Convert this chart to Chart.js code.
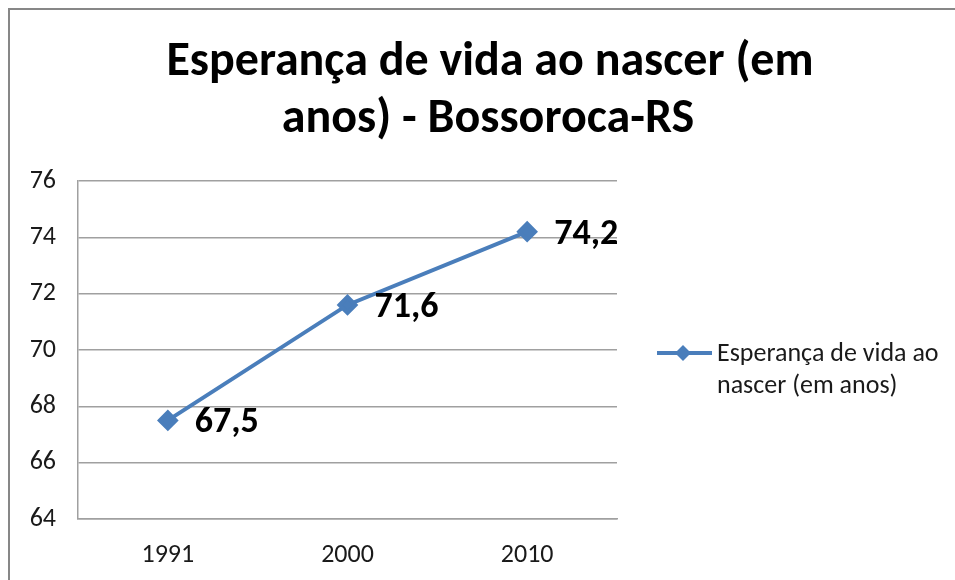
<!DOCTYPE html>
<html>
<head>
<meta charset="utf-8">
<script src="https://cdn.jsdelivr.net/npm/chart.js@4/dist/chart.umd.min.js"></script>
<style>
  html, body { margin: 0; padding: 0; background: #ffffff; }
  #wrap { width: 955px; height: 580px; position: relative; }
</style>
</head>
<body>
<div id="wrap"><canvas id="c" width="955" height="580"></canvas></div>
<script>
// ---- data ----
const categories = ['1991', '2000', '2010'];
const seriesName = 'Esperança de vida ao nascer (em anos)';
const seriesValues = [67.5, 71.6, 74.2];
const dataLabels = ['67,5', '71,6', '74,2'];
const titleLines = ['Esperança de vida ao nascer (em', 'anos) - Bossoroca-RS'];
const legendLines = ['Esperança de vida ao', 'nascer (em anos)'];
const yMin = 64, yMax = 76, yStep = 2;

const FONT = 'Carlito, Lato, "Liberation Sans", sans-serif';
const BLUE = '#4A7EBB';

const decor = {
  id: 'decor',
  afterDraw(chart) {
    const ctx = chart.ctx;
    ctx.save();
    // outer frame
    ctx.strokeStyle = '#878787';
    ctx.lineWidth = 2;
    ctx.beginPath();
    ctx.moveTo(9, 600); ctx.lineTo(9, 9); ctx.lineTo(960, 9);
    ctx.stroke();

    // title
    ctx.fillStyle = '#000000';
    ctx.font = 'bold 48px ' + FONT;
    ctx.textAlign = 'center';
    ctx.textBaseline = 'alphabetic';
    ctx.fillText(titleLines[0], 490, 75);
    ctx.fillText(titleLines[1], 488, 132);

    // data labels
    const meta = chart.getDatasetMeta(0);
    ctx.font = 'bold 36px ' + FONT;
    ctx.textAlign = 'left';
    meta.data.forEach((pt, i) => {
      ctx.fillText(dataLabels[i], pt.x + 27, pt.y + 12);
    });

    // legend
    const lx = 657, ly = 353;
    ctx.strokeStyle = BLUE;
    ctx.lineWidth = 4;
    ctx.beginPath();
    ctx.moveTo(lx, ly); ctx.lineTo(lx + 55, ly);
    ctx.stroke();
    ctx.fillStyle = BLUE;
    ctx.beginPath();
    const mx = lx + 26, r = 8;
    ctx.moveTo(mx, ly - r); ctx.lineTo(mx + r, ly); ctx.lineTo(mx, ly + r); ctx.lineTo(mx - r, ly);
    ctx.closePath(); ctx.fill();
    ctx.fillStyle = '#1a1a1a';
    ctx.font = '26px ' + FONT;
    ctx.fillText(legendLines[0], 717, 361);
    ctx.fillText(legendLines[1], 717, 393);
    ctx.restore();
  }
};

new Chart(document.getElementById('c'), {
  type: 'line',
  data: {
    labels: categories,
    datasets: [{
      label: seriesName,
      data: seriesValues,
      borderColor: BLUE,
      backgroundColor: BLUE,
      borderWidth: 4,
      pointStyle: 'rectRot',
      pointRadius: 8,
      pointHoverRadius: 8,
      pointBackgroundColor: BLUE,
      pointBorderColor: BLUE,
      tension: 0
    }]
  },
  options: {
    responsive: false,
    animation: false,
    events: [],
    layout: { padding: { left: 0, top: 181, right: 338, bottom: 0 } },
    plugins: {
      legend: { display: false },
      title: { display: false },
      tooltip: { enabled: false }
    },
    scales: {
      x: {
        offset: true,
        grid: { display: false, drawTicks: false },
        border: { display: true, color: '#A0A0A0', width: 1.5 },
        ticks: { color: '#1a1a1a', font: { family: FONT, size: 26 }, padding: 21 },
        afterFit(s) { s.height = 61; }
      },
      y: {
        min: yMin, max: yMax,
        ticks: { stepSize: yStep, color: '#1a1a1a', font: { family: FONT, size: 26 }, padding: 22 },
        grid: { color: '#A0A0A0', lineWidth: 1.5, drawTicks: false },
        border: { display: true, color: '#A0A0A0', width: 1.5 },
        afterFit(s) { s.width = 78; }
      }
    }
  },
  plugins: [decor]
});
</script>
</body>
</html>
